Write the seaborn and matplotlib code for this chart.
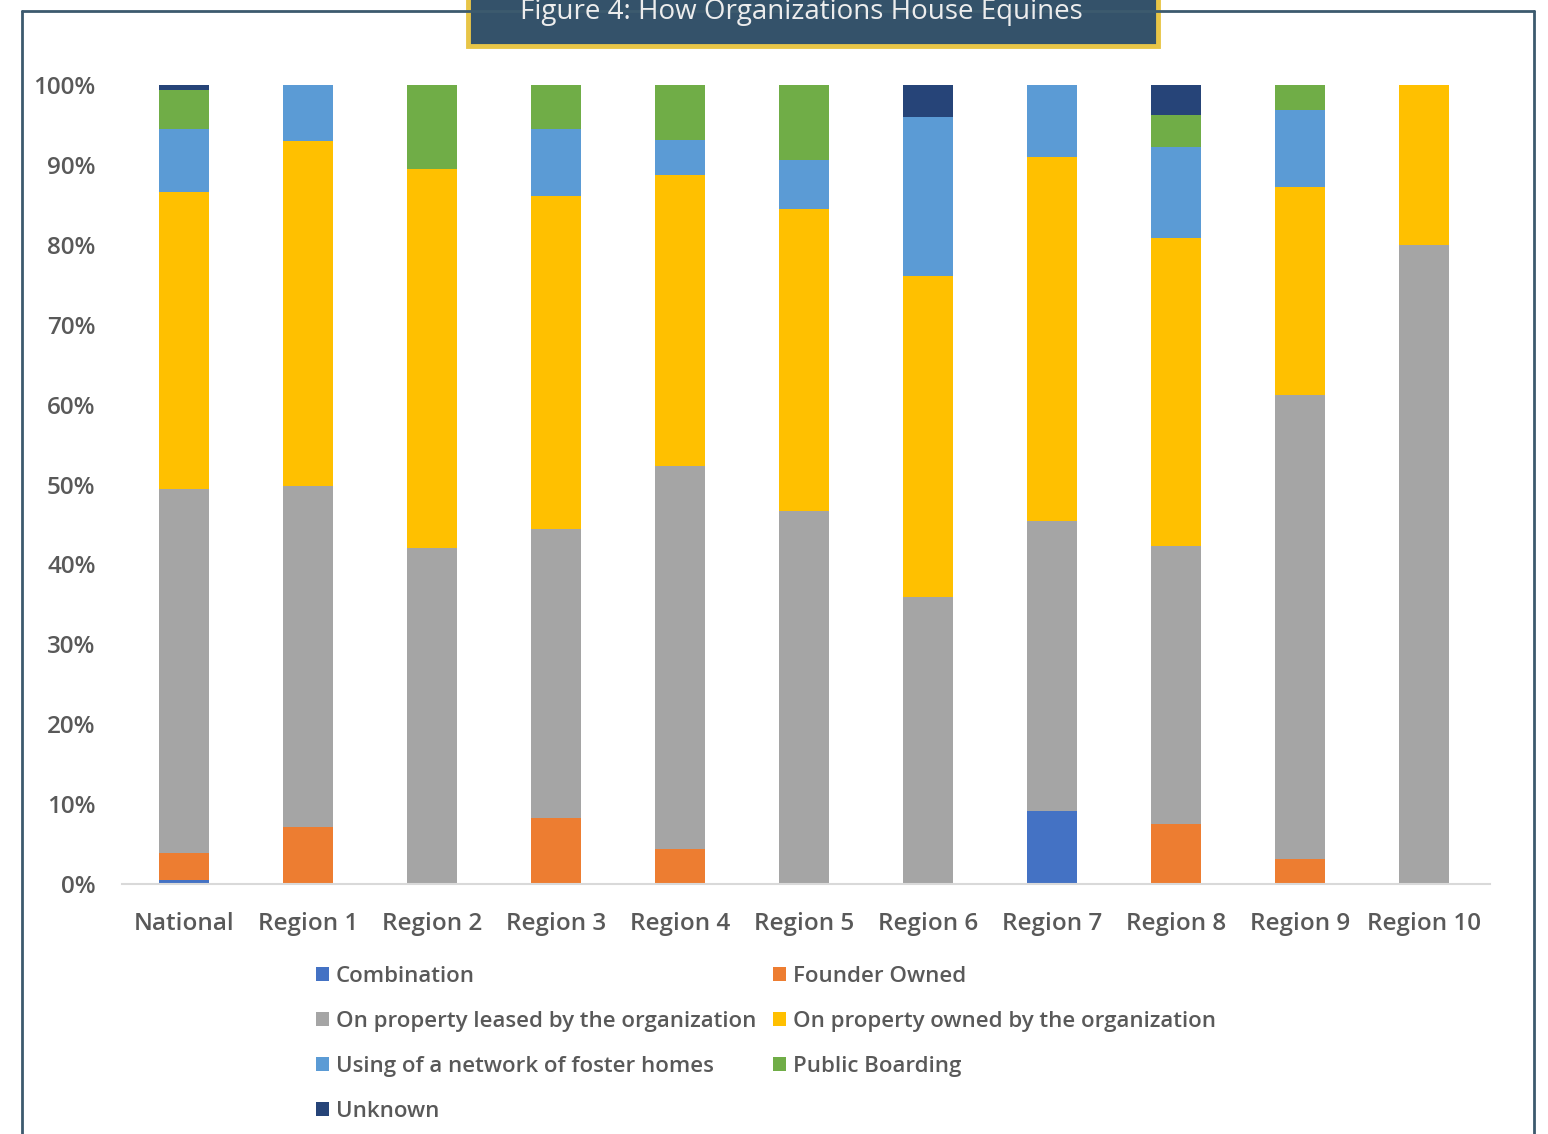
import numpy as np
import matplotlib
matplotlib.use("Agg")
import matplotlib.pyplot as plt
from matplotlib.patches import Patch, Rectangle
from matplotlib.lines import Line2D
from matplotlib.ticker import FuncFormatter
import seaborn as sns

# DATA (percent of organizations)
regions = ["National", "Region 1", "Region 2", "Region 3", "Region 4", "Region 5",
           "Region 6", "Region 7", "Region 8", "Region 9", "Region 10"]
combination = [0.5, 0, 0, 0, 0, 0, 0, 9.1, 0, 0, 0]
founder = [3.4, 7.1, 0, 8.3, 4.4, 0, 0, 0, 7.5, 3.1, 0]
leased = [45.5, 42.7, 42.0, 36.1, 47.9, 46.7, 35.9, 36.3, 34.8, 58.1, 80.0]
owned = [37.2, 43.2, 47.5, 41.7, 36.4, 37.8, 40.2, 45.6, 38.6, 26.0, 20.0]
foster = [7.9, 7.0, 0, 8.4, 4.4, 6.1, 19.9, 9.0, 11.3, 9.7, 0]
public = [4.9, 0, 10.5, 5.5, 6.9, 9.4, 0, 0, 4.0, 3.1, 0]
unknown = [0.6, 0, 0, 0, 0, 0, 4.0, 0, 3.8, 0, 0]

series_names = ["Combination", "Founder Owned", "On property leased by the organization",
                "On property owned by the organization", "Using of a network of foster homes",
                "Public Boarding", "Unknown"]
series_values = [combination, founder, leased, owned, foster, public, unknown]
colors = ["#4472C4", "#ED7D31", "#A5A5A5", "#FFC000", "#5B9BD5", "#70AD47", "#264478"]

sns.set_style("white")
plt.rcParams["font.family"] = ["Open Sans", "DejaVu Sans"]

fig = plt.figure(figsize=(15.48, 11.34), dpi=100)
W, H = 1548, 1134
ax = fig.add_axes([122 / W, 1 - 884 / H, (1490 - 122) / W, (884 - 85) / H])

# stacked bars: draw cumulative totals from the top layer down
cum = np.cumsum(np.array(series_values), axis=0)
for i in range(len(series_names) - 1, -1, -1):
    sns.barplot(x=regions, y=cum[i], color=colors[i], saturation=1, width=0.4,
                ax=ax, linewidth=0)

ax.set_ylim(0, 100)
ax.set_xlim(-0.5, 10.53)
ax.set_yticks(range(0, 101, 10))
ax.yaxis.set_major_formatter(FuncFormatter(lambda v, p: f"{int(v)}%"))
ax.set_xlabel("")
ax.set_ylabel("")
for s in ["top", "right", "left"]:
    ax.spines[s].set_visible(False)
ax.spines["bottom"].set_color("#D9D9D9")
ax.spines["bottom"].set_linewidth(1.5)
ax.tick_params(axis="both", length=0, colors="#595959", labelsize=17.5)
ax.tick_params(axis="x", pad=20)
ax.tick_params(axis="y", pad=19)
for lab in ax.get_xticklabels() + ax.get_yticklabels():
    lab.set_fontweight("semibold")

# legend, row-major order in 2 columns
order = [0, 2, 4, 6, 1, 3, 5]
handles = [Patch(facecolor=colors[i], edgecolor="none", label=series_names[i]) for i in order]
leg = fig.legend(handles=handles, loc="upper left", bbox_to_anchor=(305 / W, 1 - 955 / H),
                 ncol=2, frameon=False, fontsize=16, handlelength=0.6, handleheight=0.6,
                 handletextpad=0.3, columnspacing=0.75, labelspacing=1.08, borderpad=0)
for t in leg.get_texts():
    t.set_color("#595959")
    t.set_fontweight("semibold")

# outer frame
frame_c = "#3C5A6E"
fig.add_artist(Line2D([22 / W, 22 / W], [0, 1 - 11 / H], color=frame_c, lw=2))
fig.add_artist(Line2D([1534 / W, 1534 / W], [0, 1 - 11 / H], color=frame_c, lw=2))
fig.add_artist(Line2D([22 / W, 1534 / W], [1 - 11 / H, 1 - 11 / H], color=frame_c, lw=2))

# title box
fig.add_artist(Rectangle((468 / W, 1 - 46 / H), (1158 - 468) / W, 60 / H,
                         transform=fig.transFigure, facecolor="#34526A",
                         edgecolor="#E8C547", linewidth=3.5, clip_on=False))
fig.text(801 / W, 1 - 12 / H, "Figure 4: How Organizations House Equines",
         ha="center", va="center", fontsize=20, color="#EDEDED")

fig.savefig("out.png", dpi=100)
